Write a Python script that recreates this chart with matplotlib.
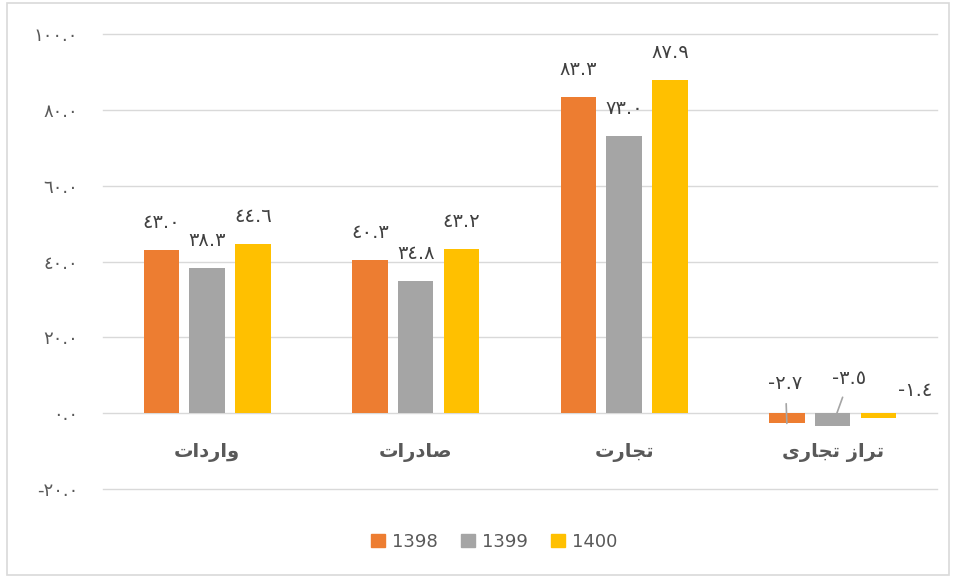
import matplotlib
matplotlib.use("Agg")
import matplotlib.pyplot as plt
from matplotlib.patches import Rectangle
import numpy as np

plt.rcParams['font.family'] = ['DejaVu Sans']

categories = ["واردات", "صادرات", "تجارت", "تراز تجاری"]
series_names = ["1398", "1399", "1400"]
v1398 = [43.0, 40.3, 83.3, -2.7]
v1399 = [38.3, 34.8, 73.0, -3.5]
v1400 = [44.6, 43.2, 87.9, -1.4]
yticks = [-20, 0, 20, 40, 60, 80, 100]
colors = ["#ED7D31", "#A5A5A5", "#FFC000"]

# --- minimal Arabic/Persian shaping (matplotlib has no complex text layout) ---
FORMS = {
    '\u0627': ('\uFE8D', '\uFE8E', None, None),
    '\u062A': ('\uFE95', '\uFE96', '\uFE97', '\uFE98'),
    '\u062C': ('\uFE9D', '\uFE9E', '\uFE9F', '\uFEA0'),
    '\u062F': ('\uFEA9', '\uFEAA', None, None),
    '\u0631': ('\uFEAD', '\uFEAE', None, None),
    '\u0632': ('\uFEAF', '\uFEB0', None, None),
    '\u0635': ('\uFEB9', '\uFEBA', '\uFEBB', '\uFEBC'),
    '\u0648': ('\uFEED', '\uFEEE', None, None),
    '\u06CC': ('\uFEEF', '\uFEF0', '\uFEF3', '\uFEF4'),
}


def shape(s):
    out = []
    n = len(s)
    for i, c in enumerate(s):
        if c not in FORMS:
            out.append(c)
            continue
        f = FORMS[c]
        prev = s[i - 1] if i > 0 else None
        nxt = s[i + 1] if i < n - 1 else None
        jp = prev in FORMS and FORMS[prev][2] is not None
        jn = nxt in FORMS and f[2] is not None
        if jp and jn:
            out.append(f[3])
        elif jp:
            out.append(f[1])
        elif jn:
            out.append(f[2])
        else:
            out.append(f[0])
    return ''.join(reversed(out))


AR_DIGITS = str.maketrans("0123456789", "٠١٢٣٤٥٦٧٨٩")


def arnum(v):
    return f"{v:.1f}".translate(AR_DIGITS)


fig = plt.figure(figsize=(9.56, 5.77), dpi=100)
fig.add_artist(Rectangle((0.007, 0.004), 0.986, 0.99, transform=fig.transFigure,
                         fill=False, edgecolor="#D9D9D9", linewidth=1.2))
ax = fig.add_axes([0.1077, 0.1525, 0.8724, 0.7885])

x = np.arange(len(categories))
width = 0.17
offsets = [-0.22, 0.0, 0.22]
all_vals = [v1398, v1399, v1400]

ax.set_ylim(-20, 100)
ax.set_xlim(-0.5, len(categories) - 0.5)
ax.set_yticks(yticks)
ax.set_yticklabels([arnum(t) for t in yticks], color="#595959", fontsize=13)
ax.tick_params(axis='y', length=0, pad=18)
ax.tick_params(axis='x', length=0)
ax.set_xticks([])
for s in ax.spines.values():
    s.set_visible(False)
for t in yticks:
    ax.axhline(t, color="#D9D9D9", linewidth=1.0, zorder=0, clip_on=False)

for vals, off, col, name in zip(all_vals, offsets, colors, series_names):
    ax.bar(x + off, vals, width, color=col, label=name, zorder=2)

# data labels
label_kw = dict(ha='center', va='center', fontsize=14, color="#404040")
# manual placements for negative-value labels (dx, dy in points)
neg_offsets = {0: (-1, 29), 1: (9, 25), 2: (26, 16)}
for si, (vals, off) in enumerate(zip(all_vals, offsets)):
    for ci, v in enumerate(vals):
        xc = x[ci] + off
        if v >= 0:
            ax.annotate(arnum(v), xy=(xc, v), xytext=(0, 20), textcoords='offset points', **label_kw)
        else:
            dx, dy = neg_offsets[si]
            if si == 0:
                ax.annotate(arnum(v), xy=(xc, v), xytext=(dx, dy), textcoords='offset points',
                            arrowprops=dict(arrowstyle='-', color="#A5A5A5", lw=1.2,
                                            shrinkA=6, shrinkB=0), **label_kw)
            elif si == 1:
                ax.annotate(arnum(v), xy=(xc + 0.02, 0), xytext=(dx, dy), textcoords='offset points',
                            arrowprops=dict(arrowstyle='-', color="#A5A5A5", lw=1.2,
                                            shrinkA=5, shrinkB=0), **label_kw)
            else:
                ax.annotate(arnum(v), xy=(xc, 0), xytext=(dx, dy), textcoords='offset points',
                            **label_kw)

# category labels
for ci, c in enumerate(categories):
    ax.text(x[ci], -10.3, shape(c), ha='center', va='center', fontsize=14,
            fontweight='bold', color="#595959")

handles = [plt.Rectangle((0, 0), 1, 1, color=c) for c in colors]
fig.legend(handles, series_names, loc='center', bbox_to_anchor=(0.517, 0.061), ncol=3,
           frameon=False, fontsize=13, handlelength=0.75, handleheight=0.75,
           handletextpad=0.4, columnspacing=1.3, labelcolor="#595959")

fig.savefig("out.png", dpi=100)
